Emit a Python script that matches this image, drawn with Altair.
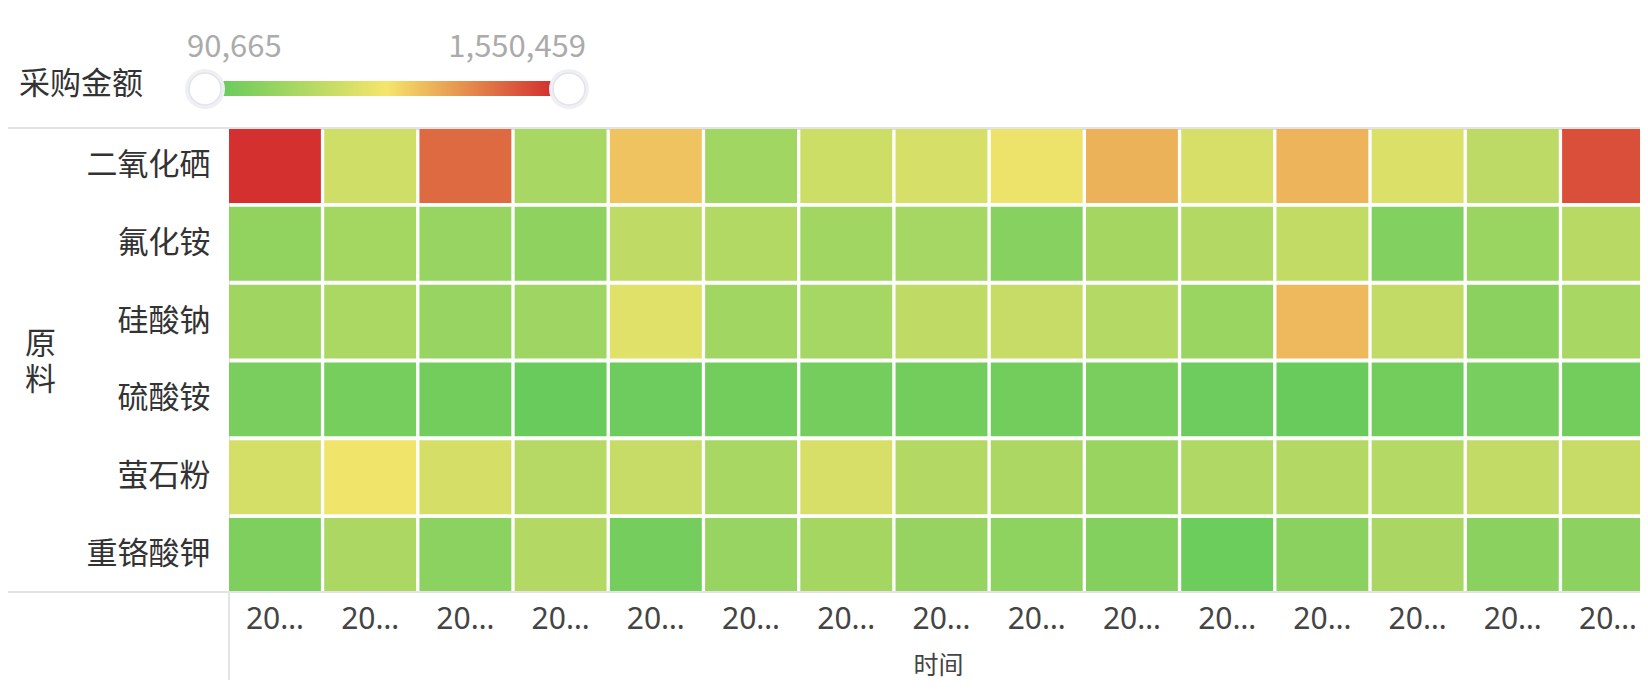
import altair as alt
import pandas as pd

# ---------------- data ----------------
materials = ["二氧化硒", "氟化铵", "硅酸钠", "硫酸铵", "萤石粉", "重铬酸钾"]
periods = ["2019-01", "2019-02", "2019-03", "2019-04", "2019-05", "2019-06",
           "2019-07", "2019-08", "2019-09", "2019-10", "2019-11", "2019-12",
           "2020-01", "2020-02", "2020-03"]

selenium_dioxide = [1550459, 620570, 1316892, 419119, 957783, 388463, 610352, 655605,
                    773849, 1026393, 665824, 1017634, 676042, 522764, 1424917]
ammonium_fluoride = [306715, 398682, 337370, 296496, 537362, 471671, 388463, 408900,
                     245403, 404521, 476051, 547581, 224966, 347589, 502327]
sodium_silicate = [378244, 435176, 331531, 373865, 708158, 388463, 408900, 543201,
                   573857, 481890, 347589, 998657, 553420, 270220, 419119]
ammonium_sulfate = [182632, 162195, 141758, 90665, 116941, 141758, 151976, 143210,
                    139880, 181950, 118400, 96504, 142300, 172413, 140520]
fluorite_powder = [645387, 789906, 651226, 486269, 573857, 419119, 665824, 476051,
                   439556, 343209, 455614, 477300, 481890, 553420, 575100]
potassium_dichromate = [203069, 439556, 276059, 476051, 151976, 337370, 404521, 327152,
                        286277, 229345, 111102, 265840, 429337, 266900, 280438]

VMIN = 90665
VMAX = 1550459

series = [selenium_dioxide, ammonium_fluoride, sodium_silicate,
          ammonium_sulfate, fluorite_powder, potassium_dichromate]
rows = []
for m, vals in zip(materials, series):
    for p, v in zip(periods, vals):
        rows.append({"原料": m, "时间": p, "采购金额": v})
df = pd.DataFrame(rows)

# ---------------- styling ----------------
W, H = 1411, 463
FONT = "Noto Sans CJK SC"
green, yellow, red = "#68cb5c", "#f6e56b", "#d3302f"
line_col = "#e4e4e7"

color_scale = alt.Scale(domain=[VMIN, (VMIN + VMAX) / 2, VMAX],
                        range=[green, yellow, red], interpolate="rgb")

heat = alt.Chart(df).mark_rect(clip=True).encode(
    x=alt.X("时间:N", sort=periods,
            scale=alt.Scale(range=[0, 1425], paddingInner=0.035, paddingOuter=0),
            axis=alt.Axis(title="时间", labelLimit=64, labelFontSize=30, labelColor="#444",
                          labelFont="Noto Sans",
                          labelPadding=12, labelAngle=0, labelOverlap=False,
                          ticks=False, domain=False, grid=False,
                          titleX=709, titleY=73, titleAlign="center", titleBaseline="middle",
                          titleFontSize=25, titleColor="#444", titleFontWeight="normal")),
    y=alt.Y("原料:N", sort=materials,
            scale=alt.Scale(paddingInner=0.05, paddingOuter=0),
            axis=alt.Axis(title=["原", "料"], labelFontSize=31, labelColor="#333",
                          labelPadding=19, ticks=False, domain=False, grid=False,
                          titleAngle=0, titleX=-189, titleY=215, titleAlign="center",
                          titleBaseline="middle", titleFontSize=31, titleLineHeight=36,
                          titleFontWeight="normal", titleColor="#333")),
    color=alt.Color("采购金额:Q", scale=color_scale, legend=None),
    tooltip=["原料:N", "时间:N", alt.Tooltip("采购金额:Q", format=",")],
)

one = alt.Data(values=[{}])

top_line = alt.Chart(one).mark_rule(color=line_col, strokeWidth=2).encode(
    x=alt.value(-221), x2=alt.value(W), y=alt.value(-1))
bottom_line = alt.Chart(one).mark_rule(color=line_col, strokeWidth=2).encode(
    x=alt.value(-221), x2=alt.value(W), y=alt.value(H))
left_line = alt.Chart(one).mark_rule(color=line_col, strokeWidth=2).encode(
    x=alt.value(0), y=alt.value(H), y2=alt.value(H + 100))

# ---------------- custom legend ----------------
gradient = alt.LinearGradient(
    gradient="linear", x1=0, x2=1, y1=0, y2=0,
    stops=[alt.GradientStop(color=green, offset=0),
           alt.GradientStop(color=yellow, offset=0.5),
           alt.GradientStop(color=red, offset=1)])

legend_bar = alt.Chart(one).mark_rect(color=gradient).encode(
    x=alt.value(-8), x2=alt.value(323), y=alt.value(-48), y2=alt.value(-33))


def knob(xpos):
    halo = alt.Chart(one).mark_circle(size=40 * 40, color="#eef0f4", opacity=1).encode(
        x=alt.value(xpos), y=alt.value(-40))
    body = alt.Chart(one).mark_circle(size=32 * 32, color="white", opacity=1,
                                      stroke="#e2e4ea", strokeWidth=1.5).encode(
        x=alt.value(xpos), y=alt.value(-40))
    return halo + body


min_label = alt.Chart(pd.DataFrame({"t": [f"{VMIN:,}"]})).mark_text(
    align="left", baseline="middle", fontSize=31, color="#ababab").encode(
    x=alt.value(-42), y=alt.value(-81), text="t:N")
max_label = alt.Chart(pd.DataFrame({"t": [f"{VMAX:,}"]})).mark_text(
    align="right", baseline="middle", fontSize=31, color="#ababab").encode(
    x=alt.value(357), y=alt.value(-81), text="t:N")
legend_title = alt.Chart(pd.DataFrame({"t": ["采购金额"]})).mark_text(
    align="left", baseline="middle", fontSize=31, color="#333").encode(
    x=alt.value(-210), y=alt.value(-44), text="t:N")

chart = alt.layer(
    heat, top_line, bottom_line, left_line,
    legend_bar, knob(-24), knob(340), min_label, max_label, legend_title,
).properties(
    width=W, height=H,
    padding={"left": 221, "top": 121, "right": 0, "bottom": 88},
    autosize=alt.AutoSizeParams(type="none"),
).configure_view(stroke=None).configure(font=FONT)

chart.save("out.html", embed_options={"renderer": "svg", "actions": False})
